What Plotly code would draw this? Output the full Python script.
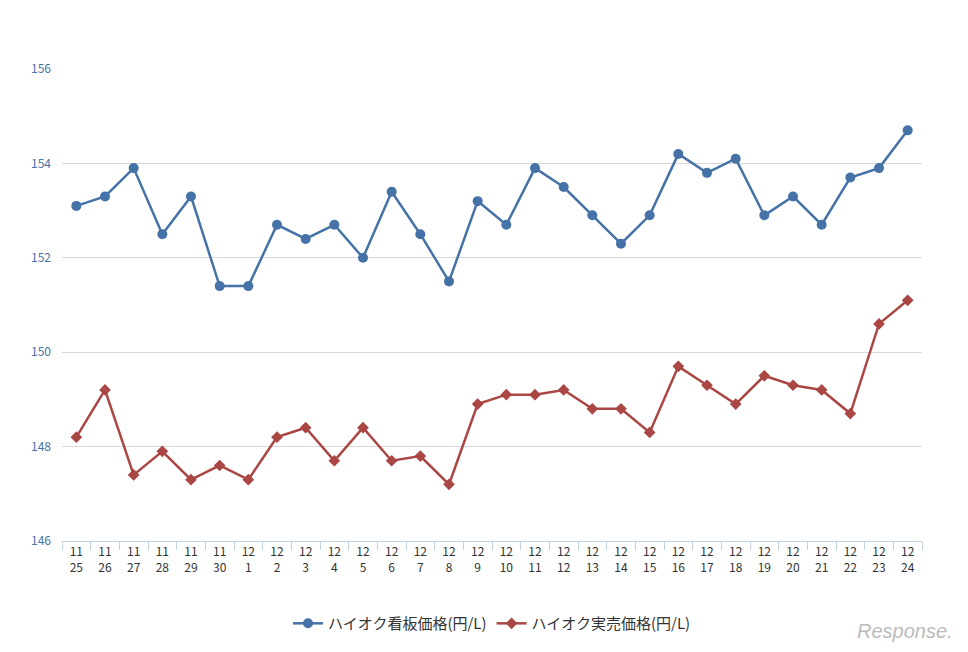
import plotly.graph_objects as go

months = ["11"] * 6 + ["12"] * 24
days = [25, 26, 27, 28, 29, 30] + list(range(1, 25))
labels = [f"{m}<br>{d}" for m, d in zip(months, days)]

signboard = [153.1, 153.3, 153.9, 152.5, 153.3, 151.4, 151.4, 152.7, 152.4, 152.7,
             152.0, 153.4, 152.5, 151.5, 153.2, 152.7, 153.9, 153.5, 152.9, 152.3,
             152.9, 154.2, 153.8, 154.1, 152.9, 153.3, 152.7, 153.7, 153.9, 154.7]
actual = [148.2, 149.2, 147.4, 147.9, 147.3, 147.6, 147.3, 148.2, 148.4, 147.7,
          148.4, 147.7, 147.8, 147.2, 148.9, 149.1, 149.1, 149.2, 148.8, 148.8,
          148.3, 149.7, 149.3, 148.9, 149.5, 149.3, 149.2, 148.7, 150.6, 151.1]

fig = go.Figure()
fig.add_trace(go.Scatter(
    x=labels, y=signboard, mode="lines+markers", name="ハイオク看板価格(円/L)",
    line=dict(color="#4572a7", width=2.5), marker=dict(symbol="circle", size=10, color="#4572a7")))
fig.add_trace(go.Scatter(
    x=labels, y=actual, mode="lines+markers", name="ハイオク実売価格(円/L)",
    line=dict(color="#aa4643", width=2.5), marker=dict(symbol="diamond", size=9, color="#aa4643")))

fig.update_layout(
    width=968, height=652, plot_bgcolor="white", paper_bgcolor="white",
    margin=dict(l=54, r=54, t=61, b=119),
    font=dict(family="Noto Sans CJK JP, Arial", color="#333"),
    showlegend=True,
    legend=dict(orientation="h", x=0.5, xanchor="center", y=-0.14, yanchor="top",
                font=dict(size=15, color="#333")),
    xaxis=dict(type="category", range=[-0.5, 29.5], showgrid=False,
               showline=True, linecolor="#c0d0e0", ticks="outside", tickson="boundaries",
               tickcolor="#c0d0e0", ticklen=8, tickfont=dict(size=12, color="#333")),
    yaxis=dict(range=[146, 156], dtick=2, gridcolor="#d8d8d8", zeroline=False,
               tickfont=dict(size=12, color="#4572a7"), ticklabelstandoff=10),
)
fig.add_annotation(text="<i>Response.</i>", xref="paper", yref="paper", x=1.038, y=-0.19,
                   xanchor="right", yanchor="middle", showarrow=False,
                   font=dict(size=20, color="#bbbbbb", family="Arial"))
fig.write_html("out.html")
